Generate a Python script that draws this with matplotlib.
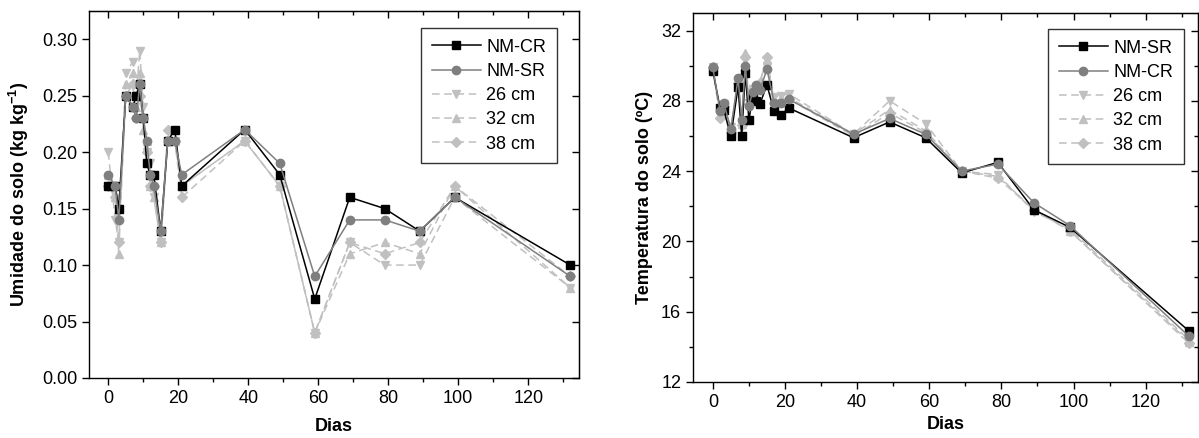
import matplotlib
matplotlib.use("Agg")
import matplotlib.pyplot as plt
from matplotlib.ticker import MultipleLocator, FormatStrFormatter

plt.rcParams['font.family'] = ['Liberation Sans', 'DejaVu Sans']
plt.rcParams['mathtext.fontset'] = 'custom'
plt.rcParams['mathtext.rm'] = 'Liberation Sans'
plt.rcParams['mathtext.bf'] = 'Liberation Sans:bold'

# sampling days (both panels)
days = [0, 2, 3, 5, 7, 8, 9, 10, 11, 12, 13, 15, 17, 19, 21, 39, 49, 59, 69, 79, 89, 99, 132]

# soil moisture (kg kg-1)
umid_nm_cr = [0.17, 0.17, 0.15, 0.25, 0.24, 0.25, 0.26, 0.23, 0.19, 0.18, 0.18, 0.13,
              0.21, 0.22, 0.17, 0.22, 0.18, 0.07, 0.16, 0.15, 0.13, 0.16, 0.10]
umid_nm_sr = [0.18, 0.17, 0.14, 0.25, 0.24, 0.23, 0.26, 0.23, 0.21, 0.18, 0.17, 0.13,
              0.21, 0.21, 0.18, 0.22, 0.19, 0.09, 0.14, 0.14, 0.13, 0.16, 0.09]
umid_26 = [0.20, 0.14, 0.12, 0.27, 0.28, 0.25, 0.29, 0.24, 0.20, 0.19, 0.16, 0.12,
           0.21, 0.21, 0.17, 0.21, 0.17, 0.04, 0.12, 0.10, 0.10, 0.16, 0.08]
umid_32 = [0.18, 0.16, 0.11, 0.26, 0.27, 0.24, 0.27, 0.22, 0.21, 0.17, 0.16, 0.12,
           0.21, 0.21, 0.17, 0.21, 0.17, 0.04, 0.11, 0.12, 0.11, 0.17, 0.08]
umid_38 = [0.17, 0.16, 0.12, 0.25, 0.26, 0.23, 0.25, 0.23, 0.20, 0.17, 0.17, 0.12,
           0.22, 0.21, 0.16, 0.21, 0.17, 0.04, 0.12, 0.11, 0.12, 0.17, 0.09]

# soil temperature (oC)
temp_nm_sr = [29.7, 27.6, 27.5, 26.0, 28.8, 26.0, 29.6, 26.9, 28.2, 28.0, 27.8, 28.9,
              27.4, 27.2, 27.6, 25.9, 26.8, 25.9, 23.9, 24.5, 21.8, 20.8, 14.9]
temp_nm_cr = [29.9, 27.4, 27.9, 26.4, 29.3, 26.9, 30.0, 27.7, 28.5, 28.9, 28.6, 29.8,
              27.9, 27.9, 28.1, 26.1, 27.0, 26.1, 24.0, 24.4, 22.2, 20.9, 14.6]
temp_26 = [29.9, 27.3, 27.8, 26.5, 29.0, 26.8, 30.3, 27.9, 28.7, 28.6, 28.7, 30.0,
           28.2, 28.3, 28.4, 26.1, 28.0, 26.7, 24.0, 23.8, 21.7, 20.7, 14.4]
temp_32 = [29.9, 27.2, 27.7, 26.3, 29.1, 26.7, 30.7, 28.0, 28.8, 28.9, 29.1, 30.3,
           28.0, 28.1, 28.2, 26.1, 27.5, 26.3, 24.0, 23.7, 21.8, 20.6, 14.3]
temp_38 = [29.9, 27.0, 27.7, 26.2, 29.0, 26.6, 30.5, 27.8, 28.7, 28.8, 29.0, 30.5,
           27.9, 28.0, 28.1, 26.0, 27.3, 26.2, 24.0, 23.6, 21.8, 20.6, 14.2]

BLACK = '#000000'
GRAY = '#7f7f7f'
LIGHT = '#c0c0c0'
FS = 13


def draw_series(ax, solid1, solid2, d26, d32, d38, labels):
    kw = dict(color=LIGHT, lw=1.1, ls=(0, (5, 3)), ms=6, mec=LIGHT, mfc=LIGHT)
    ax.plot(days, d26, marker='v', label='26 cm', zorder=2, **kw)
    ax.plot(days, d32, marker='^', label='32 cm', zorder=2, **kw)
    ax.plot(days, d38, marker='D', label='38 cm', zorder=2, **dict(kw, ms=5))
    ax.plot(days, solid1, color=BLACK, lw=1.1, marker='s', ms=5.2, label=labels[0], zorder=3)
    ax.plot(days, solid2, color=GRAY, lw=1.1, marker='o', ms=6, label=labels[1], zorder=4)
    h, l = ax.get_legend_handles_labels()
    order = [3, 4, 0, 1, 2]
    return [h[i] for i in order], [l[i] for i in order]


def style_axes(ax, ymajor, yminor, xpad):
    ax.set_xlim(-5.5, 134.5)
    ax.xaxis.set_major_locator(MultipleLocator(20))
    ax.xaxis.set_minor_locator(MultipleLocator(10))
    ax.yaxis.set_major_locator(MultipleLocator(ymajor))
    if yminor:
        ax.yaxis.set_minor_locator(MultipleLocator(yminor))
    ax.tick_params(which='major', direction='out', length=5, width=1, labelsize=FS)
    ax.tick_params(which='minor', direction='out', length=3, width=1)
    for s in ax.spines.values():
        s.set_linewidth(1.0)
    top = ax.secondary_xaxis('top')
    top.xaxis.set_major_locator(MultipleLocator(20))
    top.xaxis.set_minor_locator(MultipleLocator(10))
    top.tick_params(which='major', direction='in', length=5, width=1, labeltop=False)
    top.tick_params(which='minor', direction='in', length=3, width=1)
    right = ax.secondary_yaxis('right')
    right.yaxis.set_major_locator(MultipleLocator(ymajor))
    if yminor:
        right.yaxis.set_minor_locator(MultipleLocator(yminor))
    right.tick_params(which='major', direction='in', length=5, width=1, labelright=False)
    right.tick_params(which='minor', direction='in', length=3, width=1)
    ax.set_xlabel('Dias', fontsize=FS, fontweight='bold', labelpad=xpad)


def add_legend(ax, h, l, anchor):
    leg = ax.legend(h, l, loc='upper right', bbox_to_anchor=anchor, fontsize=FS,
                    frameon=True, fancybox=False, edgecolor='black', handlelength=2.7,
                    labelspacing=0.4, borderpad=0.6, handletextpad=0.3, borderaxespad=0)
    leg.get_frame().set_linewidth(1.0)
    return leg


fig = plt.figure(figsize=(11.99, 4.38), dpi=100)
ax1 = fig.add_axes([89 / 1199, 1 - 378 / 438, 490 / 1199, 367 / 438])
ax2 = fig.add_axes([693 / 1199, 1 - 382 / 438, 505 / 1199, 369 / 438])

# left panel: moisture
h, l = draw_series(ax1, umid_nm_cr, umid_nm_sr, umid_26, umid_32, umid_38, ['NM-CR', 'NM-SR'])
style_axes(ax1, 0.05, None, 8)
ax1.set_ylim(0, 0.325)
ax1.yaxis.set_major_formatter(FormatStrFormatter('%.2f'))
ax1.set_ylabel(r'Umidade do solo (kg kg$^{\mathbf{-1}}$)', fontsize=FS, fontweight='bold', labelpad=8)
add_legend(ax1, h, l, (0.955, 0.954))

# right panel: temperature
h, l = draw_series(ax2, temp_nm_sr, temp_nm_cr, temp_26, temp_32, temp_38, ['NM-SR', 'NM-CR'])
style_axes(ax2, 4, 2, 4)
ax2.set_ylim(12, 33)
ax2.set_ylabel('Temperatura do solo (ºC)', fontsize=FS, fontweight='bold', labelpad=6)
add_legend(ax2, h, l, (0.972, 0.957))

fig.savefig('out.png', dpi=100)
